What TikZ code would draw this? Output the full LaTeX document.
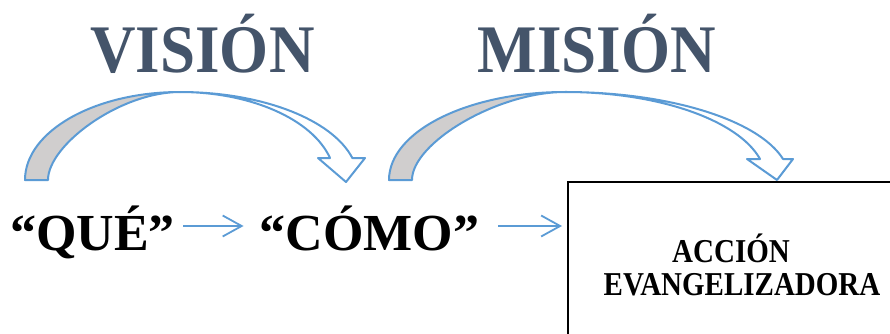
\documentclass[tikz,border=0pt]{standalone}
\usepackage{fontspec}
\setmainfont{Liberation Serif}
\usetikzlibrary{arrows.meta}
\definecolor{titlec}{HTML}{44546A}
\definecolor{arrc}{HTML}{5B9BD5}
\definecolor{backc}{HTML}{D0CECE}
\begin{document}
\begin{tikzpicture}[x=1pt,y=1pt,
  title/.style={font=\fontsize{63}{70}\selectfont\bfseries, text=titlec, inner sep=0, anchor=base},
  word/.style={font=\fontsize{52}{60}\selectfont\bfseries, inner sep=0, anchor=base},
  ribbon/.style={draw=arrc, line width=2pt, line join=round},
  arr/.style={draw=arrc, line width=1.8pt, -{Straight Barb[length=19pt,width=21pt,line width=1.8pt]}}
]
\useasboundingbox (0,0) rectangle (890,333);
% curved arrow VISION
\path[ribbon, fill=backc] (25,153) arc[start angle=180,end angle=90,x radius=155,y radius=88]
  .. controls (120,241) and (48,188) .. (48,153) -- cycle;
\path[ribbon, fill=white] (180,241) arc[start angle=90,end angle=14.48,x radius=178,y radius=88]
  -- (365,175) -- (346,151) -- (318,175) -- (330,175)
  arc[start angle=14.48,end angle=90,x radius=155,y radius=88] -- cycle;
% curved arrow MISION
\path[ribbon, fill=backc] (389,153) arc[start angle=180,end angle=90,x radius=176,y radius=88]
  .. controls (497,241) and (412,190) .. (412,153) -- cycle;
\path[ribbon, fill=white] (565,241) arc[start angle=90,end angle=13.8,x radius=224.5,y radius=88]
  -- (793,174) -- (777,153) -- (747,174) -- (760,174)
  arc[start angle=13.8,end angle=90,x radius=200.8,y radius=88] -- cycle;
% titles
\node[title] (vision) at (202.5,261) {\scalebox{1}[1.08]{VISIÓN}};
\node[title] (mision) at (597,261) {\scalebox{1}[1.08]{MISIÓN}};
% words
\node[word] (que) at (92.5,83) {“QUÉ”};
\node[word] (como) at (369.5,83) {“CÓMO”};
% box
\node[draw, line width=1.8pt, minimum width=340pt, minimum height=170pt, anchor=north west, inner sep=0] (box) at (567,152) {};
\node[font=\fontsize{29}{33}\selectfont\bfseries, align=center, inner sep=0] (accion) at (742,68)
  {\scalebox{1}[1.15]{ACCIÓN}\hspace*{22pt}\\\scalebox{1}[1.15]{EVANGELIZADORA}};
% connectors
\coordinate (ay) at (0,107);
\draw[arr, shorten <=8pt, shorten >=16pt] (que.east |- ay) -- (como.west |- ay);
\draw[arr, shorten <=19pt, shorten >=5pt] (como.east |- ay) -- (box.west |- ay);
\end{tikzpicture}
\end{document}
